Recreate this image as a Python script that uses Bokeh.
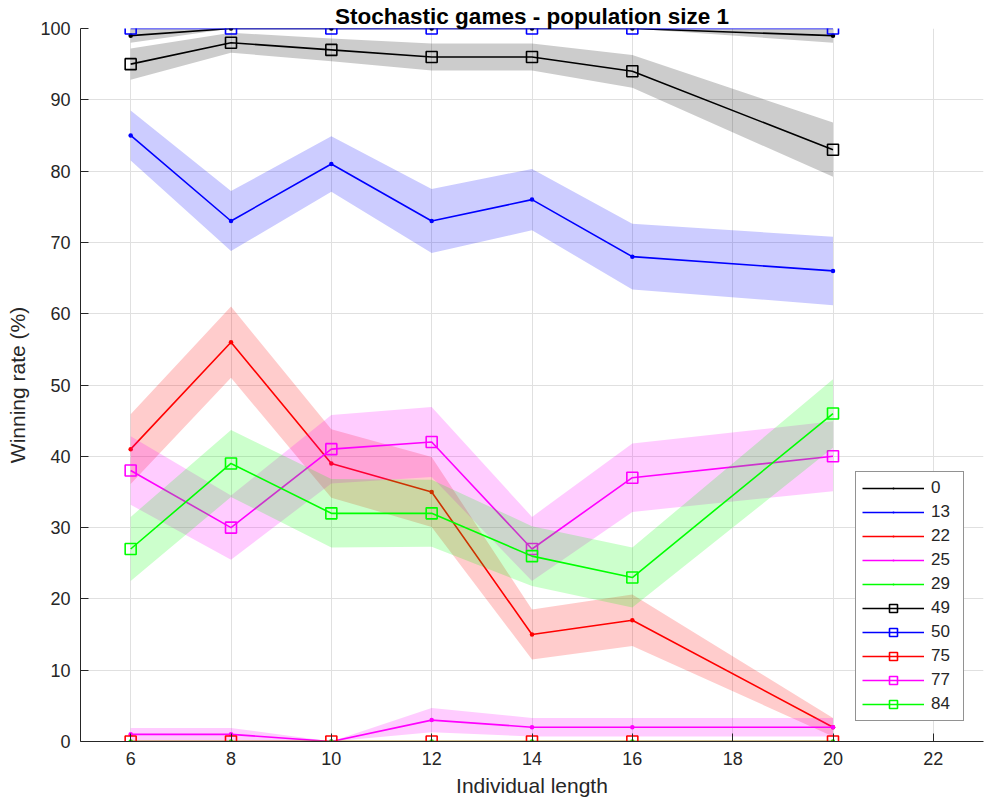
from bokeh.plotting import figure
from bokeh.models import Legend, LegendItem, Range1d, FixedTicker
from bokeh.embed import file_html
from bokeh.resources import INLINE

# Individual lengths tested
lengths = [6, 8, 10, 12, 14, 16, 20]

# Winning rate (%) per opponent id, with half-width of the shaded band
labels = ["0", "13", "22", "25", "29", "49", "50", "75", "77", "84"]

rate_0 = [99, 100, 100, 100, 100, 100, 99]
err_0 = [1.0, 0, 0, 0, 0, 0, 1.0]

rate_13 = [85, 73, 81, 73, 76, 68, 66]
err_13 = [3.5, 4.2, 3.9, 4.5, 4.3, 4.6, 4.8]

rate_22 = [41, 56, 39, 35, 15, 17, 2]
err_22 = [4.9, 5.0, 4.8, 4.9, 3.5, 3.6, 1.3]

rate_25 = [1, 1, 0, 3, 2, 2, 2]
err_25 = [0.9, 0.9, 0, 1.7, 1.3, 1.3, 1.3]

rate_29 = [0, 0, 0, 0, 0, 0, 0]
err_29 = [0, 0, 0, 0, 0, 0, 0]

rate_49 = [95, 98, 97, 96, 96, 94, 83]
err_49 = [2.2, 1.4, 1.6, 1.9, 1.9, 2.3, 3.8]

rate_50 = [100, 100, 100, 100, 100, 100, 100]
err_50 = [0, 0, 0, 0, 0, 0, 0]

rate_75 = [0, 0, 0, 0, 0, 0, 0]
err_75 = [0, 0, 0, 0, 0, 0, 0]

rate_77 = [38, 30, 41, 42, 27, 37, 40]
err_77 = [4.8, 4.5, 4.8, 4.9, 4.5, 4.8, 4.9]

rate_84 = [27, 39, 32, 32, 26, 23, 46]
err_84 = [4.5, 4.7, 4.8, 4.7, 4.2, 4.2, 4.8]

x_ticks = [6, 8, 10, 12, 14, 16, 18, 20, 22]
y_ticks = [0, 10, 20, 30, 40, 50, 60, 70, 80, 90, 100]

rates = [rate_0, rate_13, rate_22, rate_25, rate_29,
         rate_49, rate_50, rate_75, rate_77, rate_84]
errs = [err_0, err_13, err_22, err_25, err_29,
        err_49, err_50, err_75, err_77, err_84]
colors = ["#000000", "#0000ff", "#ff0000", "#ff00ff", "#00ff00"] * 2
markers = ["dot"] * 5 + ["square"] * 5

AX = "#262626"
FONT = "Liberation Sans"

p = figure(width=986, height=809, output_backend="svg", toolbar_location=None,
           x_range=Range1d(5, 23), y_range=Range1d(0, 100),
           min_border_left=80, min_border_right=3,
           min_border_top=28, min_border_bottom=68)
p.outline_line_color = None
p.background_fill_color = "white"
p.border_fill_color = "white"

p.title.text = "Stochastic games - population size 1"
p.title.align = "center"
p.title.text_font = FONT
p.title.text_font_size = "22.5px"
p.title.text_font_style = "bold"
p.title.text_color = "#000000"
p.title.standoff = 0

for ax in (p.xaxis[0], p.yaxis[0]):
    ax.axis_line_color = AX
    ax.axis_line_width = 1
    ax.major_tick_line_color = AX
    ax.major_tick_in = 8
    ax.major_tick_out = 0
    ax.minor_tick_line_color = None
    ax.major_label_text_font = FONT
    ax.major_label_text_font_size = "18px"
    ax.major_label_text_color = AX
    ax.axis_label_text_font = FONT
    ax.axis_label_text_font_size = "21px"
    ax.axis_label_text_font_style = "normal"
    ax.axis_label_text_color = AX

p.xaxis.ticker = FixedTicker(ticks=x_ticks)
p.yaxis.ticker = FixedTicker(ticks=y_ticks)
p.xaxis.axis_label = "Individual length"
p.yaxis.axis_label = "Winning rate (%)"
p.xaxis.major_label_standoff = 10
p.yaxis.major_label_standoff = 10
p.xaxis.axis_label_standoff = 6
p.yaxis.axis_label_standoff = 8

p.xgrid.ticker = FixedTicker(ticks=x_ticks)
p.ygrid.ticker = FixedTicker(ticks=y_ticks)
p.grid.grid_line_color = "#e0e0e0"
p.grid.grid_line_width = 1

items = []
for lab, r, e, c, m in zip(labels, rates, errs, colors, markers):
    lo = [max(0.0, v - d) for v, d in zip(r, e)]
    hi = [min(100.0, v + d) for v, d in zip(r, e)]
    p.varea(x=lengths, y1=lo, y2=hi, fill_color=c, fill_alpha=0.2)
    ln = p.line(lengths, r, line_color=c, line_width=1.6)
    if m == "dot":
        mk = p.scatter(lengths, r, marker="dot", size=18,
                       fill_color=c, line_color=c, line_width=1.5)
    else:
        mk = p.scatter(lengths, r, marker="square", size=11,
                       fill_color=None, line_color=c, line_width=1.6)
    items.append(LegendItem(label=lab, renderers=[ln, mk]))

legend = Legend(items=items, location=(775, 20),
                glyph_width=62, glyph_height=20, label_height=20,
                label_width=26, label_standoff=7, spacing=4, padding=6,
                margin=0,
                label_text_font=FONT, label_text_font_size="17px",
                label_text_color=AX,
                border_line_color=AX, border_line_width=1,
                background_fill_color="white", background_fill_alpha=1.0)
p.add_layout(legend, "center")

open("out.html", "w").write(file_html(p, INLINE))
